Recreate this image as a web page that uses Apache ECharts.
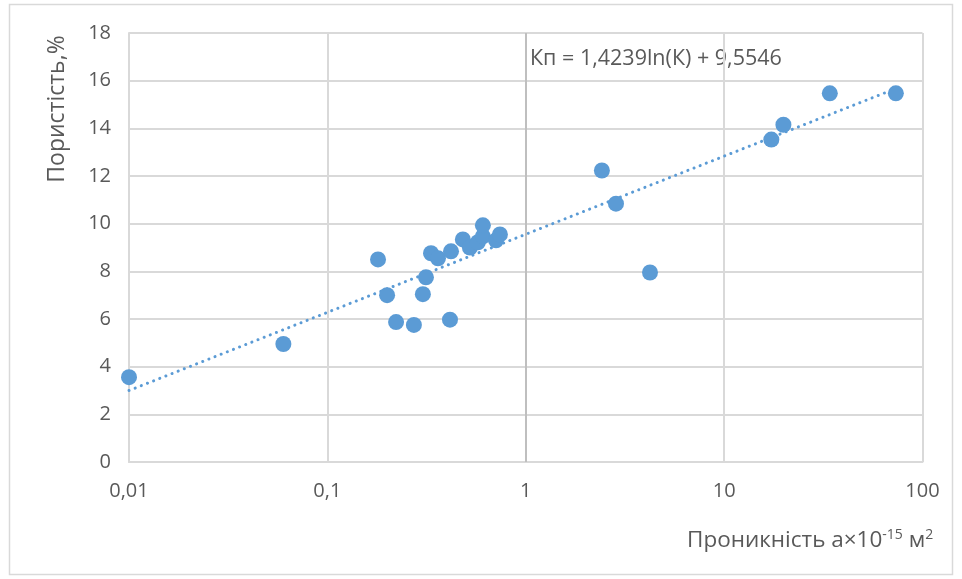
<!DOCTYPE html>
<html>
<head>
<meta charset="utf-8">
<script src="https://cdn.jsdelivr.net/npm/echarts@6/dist/echarts.min.js"></script>
<style>html,body{margin:0;padding:0;background:#fff;}#c{width:962px;height:579px;}</style>
</head>
<body>
<div id="c"></div>
<script>
// Permeability (x, ×10^-15 m²) and porosity (y, %)
const permeability = [0.01, 0.06, 0.18, 0.2, 0.222, 0.273, 0.303, 0.314, 0.333, 0.361, 0.415, 0.42, 0.482, 0.523, 0.574, 0.608, 0.608, 0.708, 0.741, 2.42, 2.85, 4.23, 17.3, 19.9, 34.1, 73.4];
const porosity     = [3.56, 4.95, 8.5, 7.0, 5.87, 5.75, 7.04, 7.75, 8.76, 8.55, 5.97, 8.84, 9.34, 9.0, 9.22, 9.47, 9.93, 9.3, 9.55, 12.23, 10.84, 7.95, 13.53, 14.15, 15.47, 15.47];
// Trendline endpoints
const trendX = [0.01, 73.4];
const trendY = [3.0, 15.67];
const yTicks = [0, 2, 4, 6, 8, 10, 12, 14, 16, 18];
const xTickLabels = {0.01: '0,01', 0.1: '0,1', 1: '1', 10: '10', 100: '100'};
const equationText = 'Кп = 1,4239ln(К) + 9,5546';
const yTitle = 'Пористість,%';

const pts = permeability.map((x, i) => [x, porosity[i]]);
const trend = trendX.map((x, i) => [x, trendY[i]]);
const txt = '#595959';
const font = 'Open Sans';

const chart = echarts.init(document.getElementById('c'), null, {renderer: 'canvas'});
chart.setOption({
  animation: false,
  textStyle: {fontFamily: font},
  grid: {left: 129, top: 33, right: 39.5, bottom: 117, containLabel: false, outerBoundsMode: 'none'},
  xAxis: {
    type: 'log', logBase: 10, min: 0.01, max: 100,
    axisLine: {show: true, lineStyle: {color: '#d9d9d9', width: 2}},
    axisTick: {show: false},
    splitLine: {show: true, lineStyle: {color: '#d9d9d9', width: 2}},
    axisLabel: {
      color: txt, fontSize: 20, fontFamily: font, margin: 19,
      formatter: v => { for (const k in xTickLabels) { if (Math.abs(Math.log10(v) - Math.log10(+k)) < 1e-6) return xTickLabels[k]; } return ''; }
    }
  },
  yAxis: {
    type: 'value', min: yTicks[0], max: yTicks[yTicks.length - 1], interval: 2,
    axisLine: {show: true, lineStyle: {color: '#d9d9d9', width: 2}},
    axisTick: {show: false},
    splitLine: {show: true, lineStyle: {color: '#d9d9d9', width: 2}},
    axisLabel: {color: txt, fontSize: 20, fontFamily: font, margin: 18}
  },
  graphic: [
    {type: 'rect', shape: {x: 9.5, y: 4.5, width: 943, height: 570}, style: {fill: 'none', stroke: '#d9d9d9', lineWidth: 1.5}, silent: true, z: -1},
    {type: 'text', x: 57, y: 109, rotation: Math.PI / 2, style: {text: yTitle, fontSize: 23, fill: txt, fontFamily: font, align: 'center', verticalAlign: 'middle'}},
    {type: 'text', x: 687, y: 541, style: {
      verticalAlign: 'middle',
      rich: {n: {fontSize: 22.5, fill: txt, fontFamily: font}, s: {fontSize: 14, fill: txt, fontFamily: font, padding: [0, 0, 12, 0]}},
      text: '{n|Проникність а×10}{s|-15}{n| м}{s|2}'
    }},
    {type: 'text', x: 530, y: 59, style: {text: equationText, fontSize: 21.5, fill: txt, fontFamily: font, verticalAlign: 'middle'}}
  ],
  series: [
    {
      type: 'line', data: trend, symbol: 'none', silent: true, z: 3,
      lineStyle: {color: '#5b9bd5', width: 3, type: [0.1, 6.5], cap: 'round'}
    },
    {
      type: 'scatter', data: pts, symbolSize: 16, z: 4,
      itemStyle: {color: '#5b9bd5', opacity: 1},
      markLine: {
        silent: true, symbol: 'none', label: {show: false},
        lineStyle: {color: '#bfbfbf', width: 2, type: 'solid'},
        data: [{xAxis: 1}]
      }
    }
  ]
});
</script>
</body>
</html>
